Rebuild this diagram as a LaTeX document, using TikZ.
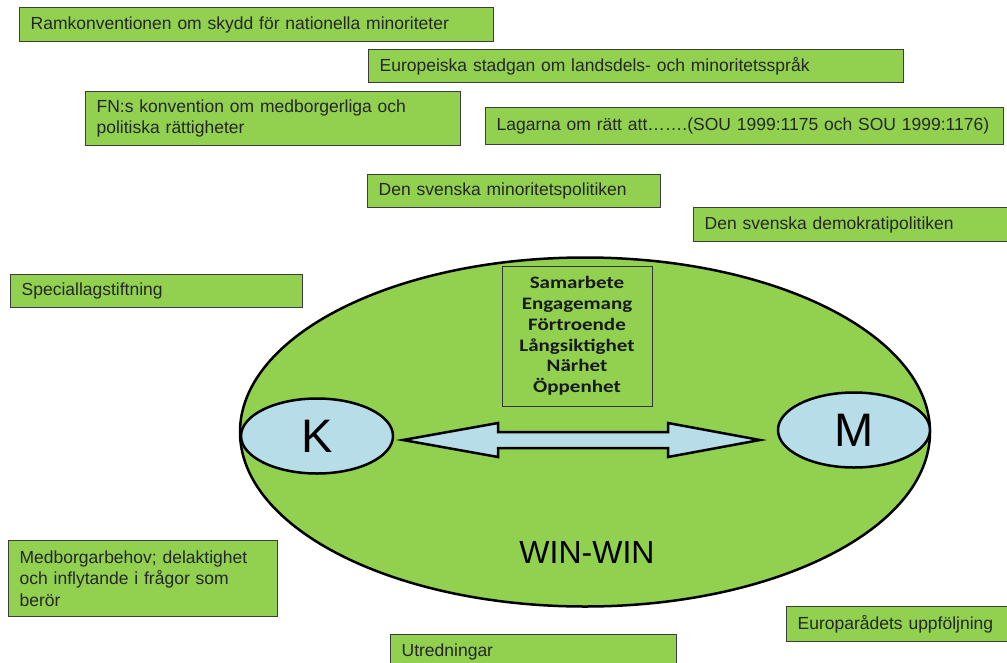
\documentclass[tikz,border=0pt]{standalone}
\usepackage{fontspec}
\setmainfont{Liberation Sans}
\newfontfamily\calib[FakeStretch=1.2]{Carlito}
\usetikzlibrary{shapes.geometric}
\definecolor{lgreen}{RGB}{146,208,80}
\definecolor{lblue}{RGB}{183,222,232}
\definecolor{bordgray}{RGB}{60,60,60}
\tikzset{
  gbox/.style={draw=bordgray, line width=1.3pt, fill=lgreen, anchor=north west,
    inner xsep=11pt, inner ysep=0pt, align=left, text=black!85,
    font=\fontsize{17.5}{21.5}\selectfont},
  blob/.style={ellipse, draw=black, line width=2.5pt, fill=lblue, inner sep=0pt,
    minimum width=152pt, minimum height=75pt, font=\fontsize{47}{50}\selectfont},
}
\begin{document}
\begin{tikzpicture}[x=1pt,y=-1pt]
\useasboundingbox (0,0) rectangle (1007,662);
\clip (0,0) rectangle (1007,662);
\fill[white] (0,0) rectangle (1007,662);

% text boxes
\node[gbox, text width=452pt, minimum height=34pt] (ram) at (19,7) {Ramkonventionen om skydd för nationella minoriteter};
\node[gbox, text width=513pt, minimum height=33pt] (eur) at (368,49) {Europeiska stadgan om landsdels- och minoritetsspråk};
\node[gbox, text width=353pt, minimum height=54pt] (fn) at (85,91) {FN:s konvention om medborgerliga och\\politiska rättigheter};
\node[gbox, text width=496pt, minimum height=37pt] (lag) at (485,107) {Lagarna om rätt att…….(SOU 1999:1175 och SOU 1999:1176)};
\node[gbox, text width=271pt, minimum height=33pt] (min) at (367,174) {Den svenska minoritetspolitiken};
\node[gbox, text width=294pt, minimum height=34pt] (dem) at (693,207) {Den svenska demokratipolitiken};
\node[gbox, text width=270pt, minimum height=33pt] (spec) at (10,274) {Speciallagstiftning};
\node[gbox, text width=247pt, minimum height=76pt] (med) at (8,540) {Medborgarbehov; delaktighet\\och inflytande i frågor som\\berör};
\node[gbox, text width=264pt, minimum height=34pt] (utr) at (390,634) {Utredningar};
\node[gbox, text width=201pt, minimum height=35pt] (epa) at (786,606) {Europarådets uppföljning};

% big ellipse
\node[ellipse, draw=black, line width=2.5pt, fill=lgreen, inner sep=0pt,
  minimum width=690pt, minimum height=349pt] (big) at (585,432) {};

% values box
\node[draw=black!80, line width=1pt, fill=lgreen, minimum width=150pt, minimum height=140pt,
  align=center, inner sep=0pt, font=\calib\bfseries\fontsize{17.5}{20.8}\selectfont, text=black!90]
  (vals) at (577,336) {Samarbete\\Engagemang\\Förtroende\\Långsiktighet\\Närhet\\Öppenhet};

% K and M
\node[blob] (K) at (317,436) {K};
\node[blob] (M) at (854,430) {M};

% double block arrow between K and M
\draw[line width=2.5pt, fill=lblue, line join=miter]
  (403,440) -- (498,423) -- (498,432) -- (668,432) -- (668,423) -- (760,440)
  -- (668,457) -- (668,448) -- (498,448) -- (498,457) -- cycle;

\node[font=\fontsize{32}{34}\selectfont] (win) at (587,552) {WIN-WIN};
\end{tikzpicture}
\end{document}
